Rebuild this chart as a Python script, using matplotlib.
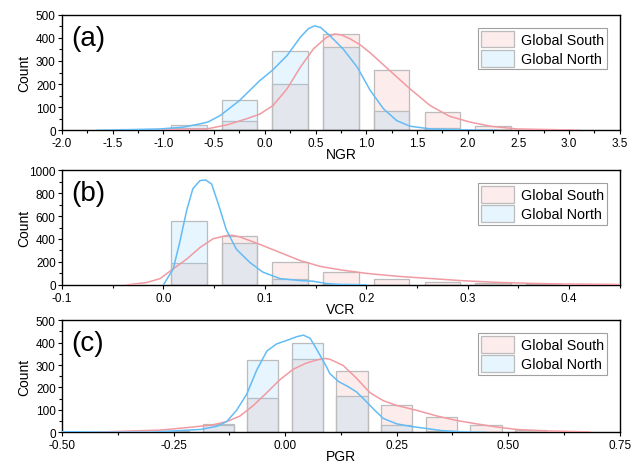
import numpy as np
import matplotlib
matplotlib.use("Agg")
import matplotlib.pyplot as plt
from matplotlib.ticker import MultipleLocator

plt.rcParams['font.family'] = ['Liberation Sans', 'DejaVu Sans']

# ---- (a) NGR ----
ngr_centers = [-1.25, -0.75, -0.25, 0.25, 0.75, 1.25, 1.75, 2.25, 2.75]
ngr_south = [2, 8, 42, 200, 418, 260, 80, 20, 3]
ngr_north = [5, 25, 132, 345, 362, 85, 10, 2, 0]
ngr_kde_north_x = [-1.65, -1.3, -1.03, -0.8, -0.64, -0.56, -0.44, -0.25, -0.05, 0.08, 0.22, 0.35,
                   0.43, 0.49, 0.55, 0.64, 0.77, 0.91, 1.04, 1.17, 1.30, 1.43, 1.63, 1.96, 2.3]
ngr_kde_north_y = [0, 3, 6, 14, 28, 36, 64, 129, 215, 262, 324, 403,
                   440, 452, 445, 410, 353, 274, 172, 93, 42, 18, 6, 2, 0]
ngr_kde_south_x = [-1.1, -0.57, -0.37, -0.18, -0.05, 0.08, 0.22, 0.35, 0.48, 0.61, 0.69, 0.76,
                   0.84, 0.94, 1.04, 1.23, 1.43, 1.63, 1.82, 2.02, 2.22, 2.48, 2.94, 3.1]
ngr_kde_south_y = [2, 6, 24, 50, 70, 107, 180, 273, 353, 403, 417, 412,
                   396, 370, 335, 259, 180, 107, 61, 36, 18, 6, 2, 0]

# ---- (b) VCR ----
vcr_centers = [0.025, 0.075, 0.125, 0.175, 0.225, 0.275, 0.325, 0.375, 0.425]
vcr_south = [188, 427, 202, 108, 55, 28, 15, 6, 3]
vcr_north = [558, 362, 48, 10, 2, 0, 0, 0, 0]
vcr_kde_north_x = [0.0, 0.0097, 0.016, 0.023, 0.029, 0.036, 0.0416, 0.0475, 0.054, 0.062, 0.072,
                   0.085, 0.098, 0.115, 0.135, 0.147, 0.161, 0.174, 0.2]
vcr_kde_north_y = [0, 140, 368, 652, 838, 909, 915, 880, 709, 481, 310,
                   197, 111, 54, 37, 32, 11, 3, 0]
vcr_kde_south_x = [-0.036, -0.0165, -0.0034, 0.0097, 0.023, 0.036, 0.049, 0.062, 0.068, 0.075,
                   0.095, 0.115, 0.135, 0.155, 0.175, 0.2, 0.23, 0.263, 0.295, 0.328, 0.361,
                   0.394, 0.45]
vcr_kde_south_y = [0, 20, 54, 140, 225, 325, 402, 430, 432, 419,
                   353, 282, 211, 160, 130, 100, 75, 55, 36, 22, 13,
                   7, 3]

# ---- (c) PGR ----
pgr_centers = [-0.25, -0.15, -0.05, 0.05, 0.15, 0.25, 0.35, 0.45, 0.55]
pgr_south = [5, 35, 153, 328, 272, 120, 70, 35, 12]
pgr_north = [2, 37, 323, 400, 160, 32, 5, 2, 0]
pgr_kde_north_x = [-0.5, -0.4, -0.3, -0.19, -0.153, -0.131, -0.109, -0.086, -0.064, -0.041, -0.019,
                   0.003, 0.026, 0.041, 0.056, 0.071, 0.093, 0.10, 0.12, 0.14, 0.16, 0.18, 0.20,
                   0.22, 0.25, 0.28, 0.31, 0.35, 0.40, 0.45]
pgr_kde_north_y = [3, 1, 1, 13, 27, 48, 98, 170, 276, 362, 394,
                   409, 426, 433, 419, 369, 291, 262, 226, 205, 180, 141, 100,
                   62, 38, 27, 19, 8, 2, 0]
pgr_kde_south_x = [-0.43, -0.28, -0.206, -0.161, -0.131, -0.101, -0.071, -0.041, -0.012, 0.018,
                   0.048, 0.078, 0.09, 0.100, 0.130, 0.160, 0.19, 0.22, 0.25, 0.295, 0.34,
                   0.384, 0.429, 0.474, 0.519, 0.578, 0.683]
pgr_kde_south_y = [1, 10, 24, 34, 48, 73, 120, 177, 234, 281,
                   309, 326, 329, 326, 298, 241, 177, 141, 120, 98, 73,
                   53, 38, 24, 13, 7, 2]

panels = [
    dict(tag='(a)', xlabel='NGR', centers=ngr_centers, south=ngr_south, north=ngr_north,
         width=0.35, ks=(ngr_kde_south_x, ngr_kde_south_y), kn=(ngr_kde_north_x, ngr_kde_north_y),
         xlim=(-2.0, 3.5), xmaj=0.5, xfmt='%.1f', ylim=(0, 500), ymaj=100,
         pos=[0.097, 0.717, 0.873, 0.249]),
    dict(tag='(b)', xlabel='VCR', centers=vcr_centers, south=vcr_south, north=vcr_north,
         width=0.035, ks=(vcr_kde_south_x, vcr_kde_south_y), kn=(vcr_kde_north_x, vcr_kde_north_y),
         xlim=(-0.1, 0.45), xmaj=0.1, xfmt='%.1f', ylim=(0, 1000), ymaj=200,
         pos=[0.097, 0.384, 0.873, 0.247]),
    dict(tag='(c)', xlabel='PGR', centers=pgr_centers, south=pgr_south, north=pgr_north,
         width=0.07, ks=(pgr_kde_south_x, pgr_kde_south_y), kn=(pgr_kde_north_x, pgr_kde_north_y),
         xlim=(-0.5, 0.75), xmaj=0.25, xfmt='%.2f', ylim=(0, 500), ymaj=100,
         pos=[0.097, 0.066, 0.873, 0.242]),
]

south_fill = (0.94, 0.50, 0.50, 0.15)
north_fill = (0.53, 0.81, 0.98, 0.20)
south_line = '#f29aa2'
north_line = '#62bcf6'
edge = '#bcbcbc'

fig = plt.figure(figsize=(6.39, 4.64), dpi=100)

for p in panels:
    ax = fig.add_axes(p['pos'])
    ax.bar(p['centers'], p['south'], width=p['width'], color=south_fill,
           edgecolor=edge, linewidth=0.9, label='Global South', zorder=2)
    ax.bar(p['centers'], p['north'], width=p['width'], color=north_fill,
           edgecolor=edge, linewidth=0.9, label='Global North', zorder=2)
    ax.plot(p['ks'][0], p['ks'][1], color=south_line, lw=1.1, zorder=3)
    ax.plot(p['kn'][0], p['kn'][1], color=north_line, lw=1.1, zorder=3)

    ax.set_xlim(*p['xlim'])
    ax.set_ylim(*p['ylim'])
    ax.xaxis.set_major_locator(MultipleLocator(p['xmaj']))
    ax.xaxis.set_minor_locator(MultipleLocator(p['xmaj'] / 2))
    ax.yaxis.set_major_locator(MultipleLocator(p['ymaj']))
    ax.yaxis.set_minor_locator(MultipleLocator(p['ymaj'] / 2))
    ax.xaxis.set_major_formatter(matplotlib.ticker.FormatStrFormatter(p['xfmt']))
    ax.tick_params(which='both', direction='out', labelsize=8.5, width=0.8,
                   top=False, right=False)
    ax.tick_params(which='major', length=3)
    ax.tick_params(which='minor', length=2)
    ax.tick_params(axis='x', pad=2)
    ax.tick_params(axis='y', pad=1.5)
    for s in ax.spines.values():
        s.set_linewidth(1.0)

    ax.set_xlabel(p['xlabel'], fontsize=10, labelpad=-1.5)
    ax.set_ylabel('Count', fontsize=10)
    ax.yaxis.set_label_coords(-0.055, 0.5)
    ax.text(0.016, 0.80, p['tag'], transform=ax.transAxes, fontsize=20, va='center')

    leg = ax.legend(loc='upper right', fontsize=10.3, handlelength=2.3, handleheight=1.45,
                    fancybox=False, framealpha=1, edgecolor='#a0a0a0',
                    borderaxespad=0.9, borderpad=0.2, labelspacing=0.15, handletextpad=0.5)
    leg.get_frame().set_linewidth(0.8)

fig.savefig('out.png', dpi=100)
